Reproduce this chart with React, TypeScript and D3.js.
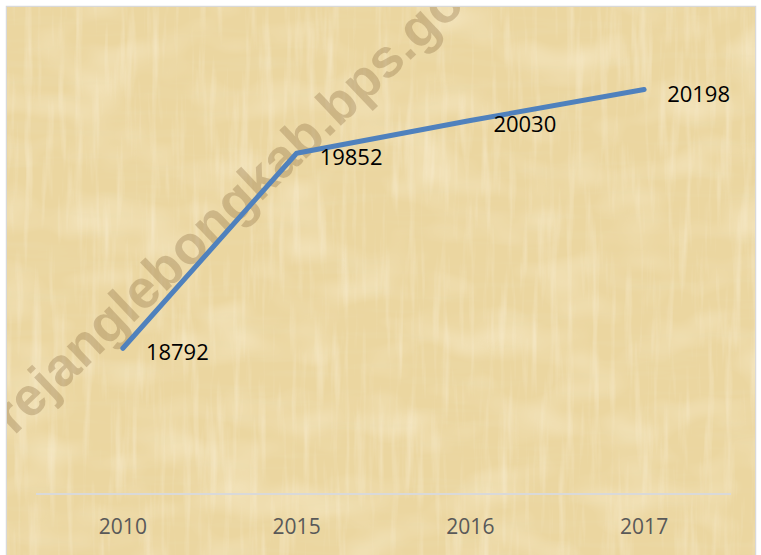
import React from 'react';
import { scaleBand, scaleLinear, line } from 'd3';

// chart values
const years = ['2010', '2015', '2016', '2017'];
const penduduk = [18792, 19852, 20030, 20198];
const yDomain = [18000, 20500];
const watermark = 'rejanglebongkab.bps.go.id';

const W = 761;
const H = 555;

const App = () => {
  const x = scaleBand().domain(years).range([36, 731]);
  const y = scaleLinear().domain(yDomain).range([494, 34]);
  const cx = (d: string) => (x(d) as number) + x.bandwidth() / 2;

  const data = years.map((yr, i) => ({ yr, v: penduduk[i] }));
  const path = line<{ yr: string; v: number }>()
    .x((d) => cx(d.yr))
    .y((d) => y(d.v))(data);

  return (
    <svg
      width={W}
      height={H}
      style={{ position: 'absolute', left: 0, top: 0, background: '#fff' }}
    >
      <defs>
        <filter id="vstreak" x="0" y="0" width="100%" height="100%">
          <feTurbulence type="fractalNoise" baseFrequency="0.12 0.01" numOctaves="3" seed="4" />
          <feColorMatrix
            type="matrix"
            values="0 0 0 0 0.97  0 0 0 0 0.90  0 0 0 0 0.74  1.0 0 0 0 -0.5"
          />
        </filter>
        <filter id="hstreak" x="0" y="0" width="100%" height="100%">
          <feTurbulence type="fractalNoise" baseFrequency="0.01 0.1" numOctaves="3" seed="9" />
          <feColorMatrix
            type="matrix"
            values="0 0 0 0 0.82  0 0 0 0 0.71  0 0 0 0 0.42  0 0.9 0 0 -0.45"
          />
        </filter>
        <filter id="blotch" x="0" y="0" width="100%" height="100%">
          <feTurbulence type="fractalNoise" baseFrequency="0.015 0.025" numOctaves="2" seed="2" />
          <feColorMatrix
            type="matrix"
            values="0 0 0 0 0.97  0 0 0 0 0.89  0 0 0 0 0.70  0 0 1.0 0 -0.45"
          />
        </filter>
        <clipPath id="paper">
          <rect x={7} y={7} width={748} height={H} />
        </clipPath>
      </defs>

      {/* frame */}
      <rect x={6.5} y={6.5} width={749} height={H} fill="none" stroke="#d9d9d9" strokeWidth={1.5} />

      {/* papyrus background */}
      <g clipPath="url(#paper)">
        <rect x={7} y={7} width={748} height={H} fill="#ebd6a0" />
        <rect x={7} y={7} width={748} height={H} filter="url(#blotch)" />
        <rect x={7} y={7} width={748} height={H} filter="url(#hstreak)" />
        <rect x={7} y={7} width={748} height={H} filter="url(#vstreak)" />

        {/* watermark */}
        <text
          transform="translate(14,436) rotate(-43.5)"
          fontFamily="'Liberation Sans', Arial, sans-serif"
          fontWeight="bold"
          fontSize={54}
          fill="#7a5a2e"
          fillOpacity={0.28}
        >
          {watermark}
        </text>
      </g>

      {/* x axis */}
      <line x1={36} x2={731} y1={494} y2={494} stroke="#d9d9d9" strokeWidth={2} />
      {years.map((yr) => (
        <text
          key={yr}
          x={cx(yr)}
          y={526}
          textAnchor="middle"
          dominantBaseline="central"
          fontFamily="'Open Sans', sans-serif"
          fontSize={21}
          fill="#595959"
        >
          {yr}
        </text>
      ))}

      {/* series */}
      <path
        d={path ?? ''}
        fill="none"
        stroke="#4f81bd"
        strokeWidth={5}
        strokeLinecap="round"
        strokeLinejoin="round"
      />
      {data.map((d) => (
        <text
          key={d.yr}
          x={cx(d.yr) + 23}
          y={y(d.v) + 3}
          dominantBaseline="central"
          fontFamily="'Open Sans', sans-serif"
          fontSize={22}
          fill="#000"
        >
          {d.v}
        </text>
      ))}
    </svg>
  );
};

export default App;
